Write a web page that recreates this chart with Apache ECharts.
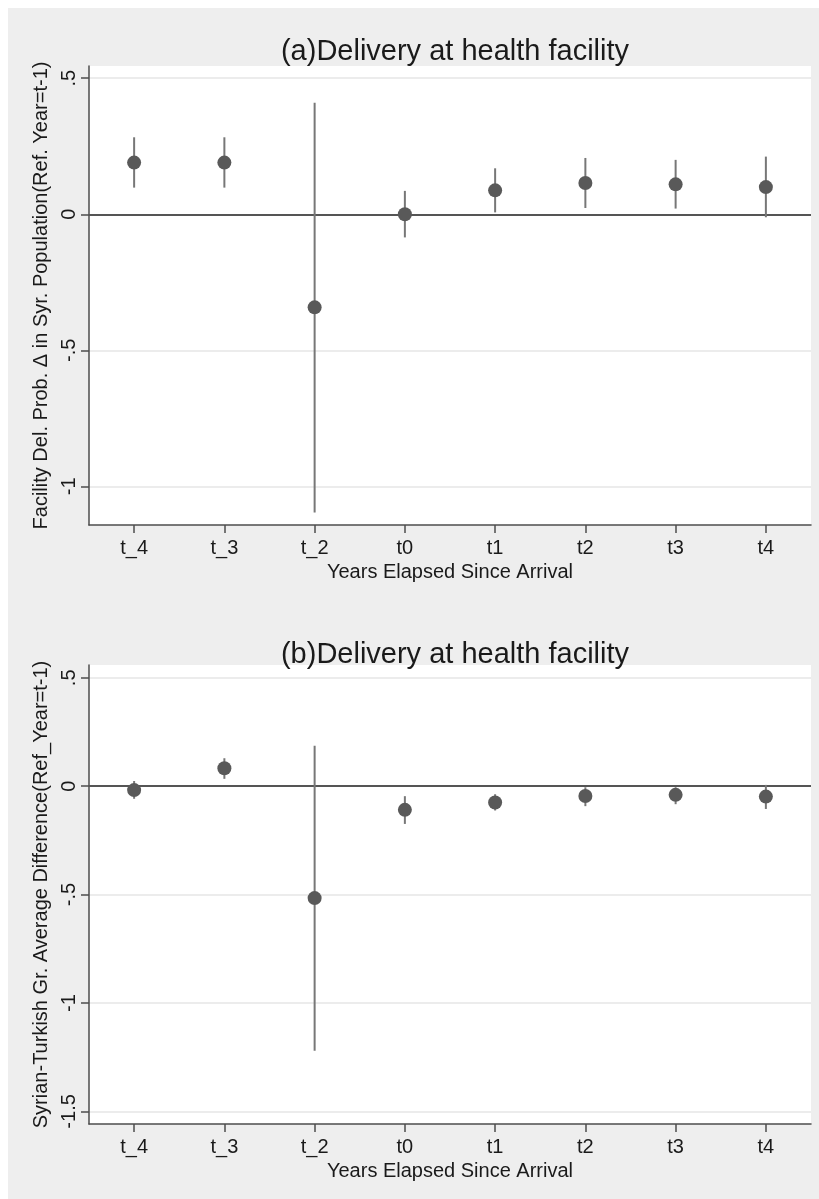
<!DOCTYPE html>
<html>
<head>
<meta charset="utf-8">
<script src="https://cdn.jsdelivr.net/npm/echarts@6/dist/echarts.min.js"></script>
<style>
  html, body { margin: 0; padding: 0; background: #ffffff; }
  #chart { position: absolute; left: 8px; top: 8px; width: 811px; height: 1191px; }
</style>
</head>
<body>
<div id="chart"></div>
<script>
// ---- data ----
var categories = ['t_4', 't_3', 't_2', 't0', 't1', 't2', 't3', 't4'];

var estA = [0.190, 0.190, -0.342, 0.000, 0.088, 0.115, 0.110, 0.100];
var loA  = [0.098, 0.098, -1.096, -0.085, 0.007, 0.023, 0.021, -0.011];
var hiA  = [0.283, 0.283, 0.410, 0.086, 0.169, 0.207, 0.200, 0.212];

var estB = [-0.018, 0.083, -0.516, -0.109, -0.075, -0.045, -0.040, -0.048];
var loB  = [-0.058, 0.034, -1.220, -0.174, -0.112, -0.092, -0.083, -0.105];
var hiB  = [0.024, 0.129, 0.187, -0.046, -0.037, -0.005, -0.005, 0.006];

var ticksA = [-1, -0.5, 0, 0.5];
var ticksB = [-1.5, -1, -0.5, 0, 0.5];
var rangeA = [-1.142, 0.545];
var rangeB = [-1.558, 0.559];

var titleA = '(a)Delivery at health facility';
var titleB = '(b)Delivery at health facility';
var yNameA = 'Facility Del. Prob. \u0394 in Syr. Population(Ref. Year=t-1)';
var yNameB = 'Syrian-Turkish Gr. Average Difference(Ref_Year=t-1)';
var xName = 'Years Elapsed Since Arrival';

// ---- styling ----
var FONT = 'Liberation Sans, Arial, sans-serif';
var TXT = '#1a1a1a';
var AX = '#4d4d4d';
var MARK = '#595959';
var CI = '#777777';

function fmt(v) {
  var s = String(v);
  if (s.indexOf('0.') === 0) s = s.slice(1);
  else if (s.indexOf('-0.') === 0) s = '-' + s.slice(2);
  return s;
}

function xAxisCfg(gi) {
  return {
    type: 'category', gridIndex: gi, data: categories, boundaryGap: true,
    name: xName, nameLocation: 'middle', nameGap: 37,
    nameTextStyle: { fontFamily: FONT, fontSize: 20, color: TXT },
    axisLine: { show: true, onZero: false, lineStyle: { color: AX, width: 1.5 } },
    axisTick: { show: true, alignWithLabel: true, length: 8, lineStyle: { color: AX, width: 1.5 } },
    axisLabel: { fontFamily: FONT, fontSize: 20, color: TXT, margin: 13 },
    splitLine: { show: false }
  };
}
function yAxisCfg(gi, range, ticks, name) {
  return {
    type: 'value', gridIndex: gi, min: range[0], max: range[1],
    name: name, nameLocation: 'middle', nameGap: 29,
    nameTextStyle: { fontFamily: FONT, fontSize: 20, color: TXT },
    axisLine: { show: true, onZero: false, lineStyle: { color: AX, width: 1.5 } },
    axisTick: { show: true, length: 8, customValues: ticks, lineStyle: { color: AX, width: 1.5 } },
    axisLabel: { fontFamily: FONT, fontSize: 20, color: TXT, rotate: 90, margin: 10,
                 customValues: ticks, formatter: fmt, showMinLabel: true, showMaxLabel: true },
    splitLine: { show: true, lineStyle: { color: '#e6e6e6', width: 1.5 } }
  };
}

function ciSeries(gi, lo, hi) {
  return {
    type: 'custom', xAxisIndex: gi, yAxisIndex: gi, z: 3,
    data: categories.map(function (c, i) { return [i, lo[i], hi[i]]; }),
    renderItem: function (params, api) {
      var p1 = api.coord([api.value(0), api.value(1)]);
      var p2 = api.coord([api.value(0), api.value(2)]);
      return { type: 'line', shape: { x1: p1[0], y1: p1[1], x2: p2[0], y2: p2[1] },
               style: { stroke: CI, lineWidth: 2 } };
    },
    silent: true
  };
}
function ptSeries(gi, est) {
  return {
    type: 'scatter', xAxisIndex: gi, yAxisIndex: gi, z: 5,
    data: est.map(function (v, i) { return [i, v]; }),
    symbol: 'circle', symbolSize: 14,
    itemStyle: { color: MARK, opacity: 1 },
    silent: true,
    markLine: {
      silent: true, symbol: 'none', z: 2,
      label: { show: false },
      lineStyle: { color: '#555555', width: 2, type: 'solid' },
      data: [{ yAxis: 0 }]
    }
  };
}

var chart = echarts.init(document.getElementById('chart'), null, { renderer: 'canvas' });
chart.setOption({
  backgroundColor: '#eeeeee',
  animation: false,
  title: [
    { text: titleA, left: 442, top: 24, textAlign: 'center',
      textStyle: { fontFamily: FONT, fontSize: 29, fontWeight: 'normal', color: TXT } },
    { text: titleB, left: 442, top: 627, textAlign: 'center',
      textStyle: { fontFamily: FONT, fontSize: 29, fontWeight: 'normal', color: TXT } }
  ],
  grid: [
    { left: 81, right: 8, top: 58, bottom: 674, show: true, backgroundColor: '#ffffff', borderWidth: 0 },
    { left: 81, right: 8, top: 657, bottom: 75, show: true, backgroundColor: '#ffffff', borderWidth: 0 }
  ],
  xAxis: [xAxisCfg(0), xAxisCfg(1)],
  yAxis: [yAxisCfg(0, rangeA, ticksA, yNameA), yAxisCfg(1, rangeB, ticksB, yNameB)],
  series: [ciSeries(0, loA, hiA), ptSeries(0, estA), ciSeries(1, loB, hiB), ptSeries(1, estB)]
});
</script>
</body>
</html>
